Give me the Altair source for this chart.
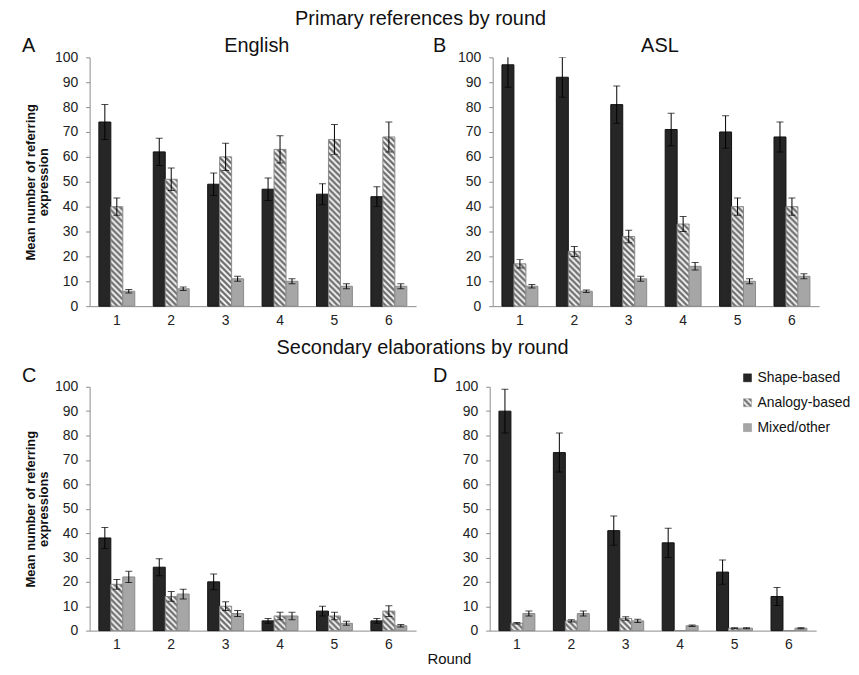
import altair as alt
import pandas as pd
import altair.utils.html as alt_html

FONT = "Liberation Sans"

rounds = [1, 2, 3, 4, 5, 6]
series = ["Shape-based", "Analogy-based", "Mixed/other"]

# Panel A: English, primary references
a_shape = [74, 62, 49, 47, 45, 44]
a_shape_err = [7, 5.5, 4.5, 4.5, 4.2, 4]
a_analogy = [40, 51, 60, 63, 67, 68]
a_analogy_err = [3.5, 4.5, 5.5, 5.5, 6, 6]
a_mixed = [6, 7, 11, 10, 8, 8]
a_mixed_err = [0.7, 0.7, 1, 1, 1, 1]

# Panel B: ASL, primary references
b_shape = [97, 92, 81, 71, 70, 68]
b_shape_err = [9, 8, 7.5, 6.5, 6.5, 6]
b_analogy = [17, 22, 28, 33, 40, 40]
b_analogy_err = [1.7, 2, 2.5, 3, 3.5, 3.5]
b_mixed = [8, 6, 11, 16, 10, 12]
b_mixed_err = [0.7, 0.5, 1, 1.5, 1, 1]

# Panel C: English, secondary elaborations
c_shape = [38, 26, 20, 4, 8, 4]
c_shape_err = [4.3, 3.5, 3.2, 1, 2, 1]
c_analogy = [19, 14, 10, 6, 6, 8]
c_analogy_err = [2, 2, 1.8, 1.5, 1.5, 2.2]
c_mixed = [22, 15, 7, 6, 3, 2]
c_mixed_err = [2.3, 2, 1.2, 1.5, 0.8, 0.5]

# Panel D: ASL, secondary elaborations
d_shape = [90, 73, 41, 36, 24, 14]
d_shape_err = [9, 8, 6, 6, 5, 3.7]
d_analogy = [3, 4, 5, 0, 1, 0]
d_analogy_err = [0.3, 0.5, 0.7, 0, 0.2, 0]
d_mixed = [7, 7, 4, 2, 1, 1]
d_mixed_err = [1, 1, 0.7, 0.3, 0.2, 0.2]

fills = ["#262626", "url(#hatch)", "#a6a6a6"]
strokes = ["#111111", "#8a8a8a", "#8a8a8a"]


def make_df(vals, errs):
    rows = []
    for s, v, e in zip(series, vals, errs):
        for r, vv, ee in zip(rounds, v, e):
            rows.append({"round": r, "series": s, "value": vv, "err": ee})
    return pd.DataFrame(rows)


def panel(df, letter, letter_x, title, ytitle, legend, h):
    base = alt.Chart(df)
    x = alt.X("round:O", title=None,
              scale=alt.Scale(paddingInner=0.34, paddingOuter=0.17),
              axis=alt.Axis(labelAngle=0, ticks=False, labelPadding=7))
    xo = alt.XOffset("series:N", sort=series, scale=alt.Scale(paddingInner=0, paddingOuter=0))

    def yy(field):
        return alt.Y(field, type="quantitative", title=ytitle,
                     scale=alt.Scale(domain=[0, 100], nice=False),
                     axis=alt.Axis(values=list(range(0, 101, 10)), tickSize=4,
                                   labelPadding=8, titleFontWeight="bold",
                                   titleFontSize=13, titleFont=FONT,
                                   titleLineHeight=13, titlePadding=4,
                                   titleColor="#111"))

    bars = base.mark_bar(strokeWidth=1).encode(
        x=x, xOffset=xo, y=yy("value"),
        fill=alt.Fill("series:N", sort=series,
                      scale=alt.Scale(domain=series, range=fills),
                      legend=legend),
        stroke=alt.Stroke("series:N", sort=series,
                          scale=alt.Scale(domain=series, range=strokes),
                          legend=None),
    )
    eb = base.transform_filter("datum.err > 0").transform_calculate(
        lo="datum.value - datum.err", hi="datum.value + datum.err")
    rules = eb.mark_rule(clip=True, color="black", strokeWidth=1).encode(
        x=x, xOffset=xo, y=yy("lo"), y2="hi:Q")
    cap_hi = eb.mark_tick(clip=True, color="black", orient="horizontal",
                          size=7, thickness=1).encode(x=x, xOffset=xo, y=yy("hi"))
    cap_lo = eb.mark_tick(clip=True, color="black", orient="horizontal",
                          size=7, thickness=1).encode(x=x, xOffset=xo, y=yy("lo"))
    lt = alt.Chart(pd.DataFrame({"t": [letter]})).mark_text(
        align="left", baseline="alphabetic", fontSize=20, font=FONT,
        color="#111").encode(text="t:N", x=alt.value(letter_x), y=alt.value(-5))
    layers = [bars, rules, cap_hi, cap_lo, lt]
    if title:
        tt = alt.Chart(pd.DataFrame({"t": [title]})).mark_text(
            align="center", baseline="alphabetic", fontSize=20, font=FONT,
            color="#111").encode(text="t:N", x=alt.value(168), y=alt.value(-5))
        layers.append(tt)
    return alt.layer(*layers).properties(width=328, height=h)


legend_d = alt.Legend(orient="none", legendX=252, legendY=-16, title=None,
                      symbolType="square", symbolSize=64, labelFontSize=14,
                      labelFont=FONT, labelColor="#111", rowPadding=11,
                      symbolStrokeColor="#888", symbolStrokeWidth=0.5,
                      labelOffset=3)

pA = panel(make_df([a_shape, a_analogy, a_mixed], [a_shape_err, a_analogy_err, a_mixed_err]),
           "A", -68, "English", ["Mean number of referring", "expression"], None, 250)
pB = panel(make_df([b_shape, b_analogy, b_mixed], [b_shape_err, b_analogy_err, b_mixed_err]),
           "B", -60, "ASL", None, None, 250)
pC = panel(make_df([c_shape, c_analogy, c_mixed], [c_shape_err, c_analogy_err, c_mixed_err]),
           "C", -68, None, ["Mean number of referring", "expressions"], None, 245)
pD = panel(make_df([d_shape, d_analogy, d_mixed], [d_shape_err, d_analogy_err, d_mixed_err]),
           "D", -57, None, None, legend_d, 245)

row1 = alt.hconcat(pA, pB, spacing=17, title=alt.TitleParams(
    "Primary references by round", fontSize=20, font=FONT, fontWeight="normal",
    anchor="middle", color="#111", offset=7)).resolve_scale(
    fill="independent", stroke="independent").resolve_legend(fill="independent")
row2 = alt.hconcat(pC, pD, spacing=17, title=alt.TitleParams(
    "Secondary elaborations by round", fontSize=20, font=FONT, fontWeight="normal",
    anchor="middle", color="#111", offset=8, dx=-14)).resolve_scale(
    fill="independent", stroke="independent").resolve_legend(fill="independent")

chart = alt.vconcat(row1, row2, spacing=11, title=alt.TitleParams(
    "Round", orient="bottom", anchor="middle", dx=13, fontSize=15, font=FONT,
    fontWeight="normal", color="#111", offset=1)).resolve_scale(
    fill="independent", stroke="independent").resolve_legend(
    fill="independent").properties(
    padding={"left": 14, "top": 0, "right": 0, "bottom": 0}
).configure_view(stroke=None).configure_axis(
    domainColor="#8c8c8c", tickColor="#8c8c8c", labelFont=FONT,
    labelFontSize=14, labelColor="#222", grid=False)

HATCH_DEFS = ('<svg width="0" height="0" style="position:absolute">'
              '<defs><pattern id="hatch" patternUnits="userSpaceOnUse" width="6" height="6">'
              '<rect width="6" height="6" fill="#ffffff"/>'
              '<path d="M-1,-1 L7,7 M-1,5 L1,7 M5,-1 L7,1" stroke="#6e6e6e" stroke-width="2.4"/>'
              '</pattern></defs></svg>')


class HatchTemplate:
    def render(self, **kw):
        base_t = getattr(alt_html, "HTML_TEMPLATE", None) or alt_html.TEMPLATES["standard"]
        html = base_t.render(**kw)
        return html.replace("<body>", "<body>" + HATCH_DEFS, 1)


chart.save("out.html", embed_options={"renderer": "svg", "actions": False},
           template=HatchTemplate())
